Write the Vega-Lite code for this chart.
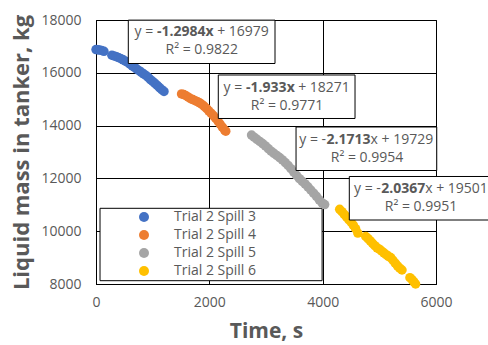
{
  "$schema": "https://vega.github.io/schema/vega-lite/v6.json",
  "width": 340,
  "height": 264,
  "autosize": {"type": "none"},
  "padding": {"left": 96, "top": 20, "right": 52, "bottom": 61},
  "background": "white",
  "config": {
    "font": "Open Sans",
    "view": {"stroke": "black", "strokeWidth": 1},
    "axis": {
      "grid": true, "gridColor": "black", "gridWidth": 1, "gridOpacity": 1,
      "domainColor": "black", "ticks": false, "labelFlush": false, "format": "d",
      "labelFont": "Open Sans", "labelFontSize": 14, "labelColor": "#595959",
      "titleFont": "Open Sans", "titleFontSize": 21, "titleFontWeight": "bold", "titleColor": "#595959"
    }
  },
  "datasets": {
    "points": [
      {"s": "Trial 2 Spill 3", "t": 0, "m": 16880},
      {"s": "Trial 2 Spill 3", "t": 30, "m": 16875},
      {"s": "Trial 2 Spill 3", "t": 60, "m": 16860},
      {"s": "Trial 2 Spill 3", "t": 100, "m": 16845},
      {"s": "Trial 2 Spill 3", "t": 140, "m": 16815},
      {"s": "Trial 2 Spill 3", "t": 280, "m": 16665},
      {"s": "Trial 2 Spill 3", "t": 320, "m": 16640},
      {"s": "Trial 2 Spill 3", "t": 360, "m": 16610},
      {"s": "Trial 2 Spill 3", "t": 400, "m": 16575},
      {"s": "Trial 2 Spill 3", "t": 440, "m": 16535},
      {"s": "Trial 2 Spill 3", "t": 480, "m": 16490},
      {"s": "Trial 2 Spill 3", "t": 520, "m": 16440},
      {"s": "Trial 2 Spill 3", "t": 560, "m": 16390},
      {"s": "Trial 2 Spill 3", "t": 600, "m": 16330},
      {"s": "Trial 2 Spill 3", "t": 640, "m": 16260},
      {"s": "Trial 2 Spill 3", "t": 680, "m": 16200},
      {"s": "Trial 2 Spill 3", "t": 720, "m": 16140},
      {"s": "Trial 2 Spill 3", "t": 760, "m": 16080},
      {"s": "Trial 2 Spill 3", "t": 800, "m": 16020},
      {"s": "Trial 2 Spill 3", "t": 840, "m": 15960},
      {"s": "Trial 2 Spill 3", "t": 880, "m": 15900},
      {"s": "Trial 2 Spill 3", "t": 920, "m": 15830},
      {"s": "Trial 2 Spill 3", "t": 960, "m": 15745},
      {"s": "Trial 2 Spill 3", "t": 1000, "m": 15675},
      {"s": "Trial 2 Spill 3", "t": 1040, "m": 15600},
      {"s": "Trial 2 Spill 3", "t": 1080, "m": 15520},
      {"s": "Trial 2 Spill 3", "t": 1120, "m": 15440},
      {"s": "Trial 2 Spill 3", "t": 1160, "m": 15360},
      {"s": "Trial 2 Spill 3", "t": 1200, "m": 15295},
      {"s": "Trial 2 Spill 4", "t": 1510, "m": 15200},
      {"s": "Trial 2 Spill 4", "t": 1550, "m": 15175},
      {"s": "Trial 2 Spill 4", "t": 1590, "m": 15130},
      {"s": "Trial 2 Spill 4", "t": 1630, "m": 15075},
      {"s": "Trial 2 Spill 4", "t": 1670, "m": 15020},
      {"s": "Trial 2 Spill 4", "t": 1710, "m": 14985},
      {"s": "Trial 2 Spill 4", "t": 1750, "m": 14945},
      {"s": "Trial 2 Spill 4", "t": 1790, "m": 14905},
      {"s": "Trial 2 Spill 4", "t": 1830, "m": 14860},
      {"s": "Trial 2 Spill 4", "t": 1870, "m": 14800},
      {"s": "Trial 2 Spill 4", "t": 1910, "m": 14730},
      {"s": "Trial 2 Spill 4", "t": 1950, "m": 14650},
      {"s": "Trial 2 Spill 4", "t": 1990, "m": 14560},
      {"s": "Trial 2 Spill 4", "t": 2030, "m": 14470},
      {"s": "Trial 2 Spill 4", "t": 2070, "m": 14380},
      {"s": "Trial 2 Spill 4", "t": 2110, "m": 14280},
      {"s": "Trial 2 Spill 4", "t": 2150, "m": 14180},
      {"s": "Trial 2 Spill 4", "t": 2190, "m": 14060},
      {"s": "Trial 2 Spill 4", "t": 2230, "m": 13940},
      {"s": "Trial 2 Spill 4", "t": 2270, "m": 13830},
      {"s": "Trial 2 Spill 4", "t": 2290, "m": 13790},
      {"s": "Trial 2 Spill 5", "t": 2745, "m": 13640},
      {"s": "Trial 2 Spill 5", "t": 2790, "m": 13560},
      {"s": "Trial 2 Spill 5", "t": 2840, "m": 13480},
      {"s": "Trial 2 Spill 5", "t": 2890, "m": 13400},
      {"s": "Trial 2 Spill 5", "t": 2940, "m": 13320},
      {"s": "Trial 2 Spill 5", "t": 2990, "m": 13230},
      {"s": "Trial 2 Spill 5", "t": 3040, "m": 13130},
      {"s": "Trial 2 Spill 5", "t": 3090, "m": 13030},
      {"s": "Trial 2 Spill 5", "t": 3140, "m": 12950},
      {"s": "Trial 2 Spill 5", "t": 3190, "m": 12870},
      {"s": "Trial 2 Spill 5", "t": 3240, "m": 12790},
      {"s": "Trial 2 Spill 5", "t": 3290, "m": 12700},
      {"s": "Trial 2 Spill 5", "t": 3340, "m": 12600},
      {"s": "Trial 2 Spill 5", "t": 3390, "m": 12490},
      {"s": "Trial 2 Spill 5", "t": 3440, "m": 12370},
      {"s": "Trial 2 Spill 5", "t": 3490, "m": 12240},
      {"s": "Trial 2 Spill 5", "t": 3540, "m": 12110},
      {"s": "Trial 2 Spill 5", "t": 3590, "m": 11990},
      {"s": "Trial 2 Spill 5", "t": 3640, "m": 11890},
      {"s": "Trial 2 Spill 5", "t": 3690, "m": 11790},
      {"s": "Trial 2 Spill 5", "t": 3740, "m": 11680},
      {"s": "Trial 2 Spill 5", "t": 3790, "m": 11560},
      {"s": "Trial 2 Spill 5", "t": 3840, "m": 11440},
      {"s": "Trial 2 Spill 5", "t": 3890, "m": 11320},
      {"s": "Trial 2 Spill 5", "t": 3940, "m": 11190},
      {"s": "Trial 2 Spill 5", "t": 3990, "m": 11070},
      {"s": "Trial 2 Spill 5", "t": 4035, "m": 11010},
      {"s": "Trial 2 Spill 6", "t": 4300, "m": 10830},
      {"s": "Trial 2 Spill 6", "t": 4340, "m": 10740},
      {"s": "Trial 2 Spill 6", "t": 4380, "m": 10640},
      {"s": "Trial 2 Spill 6", "t": 4420, "m": 10540},
      {"s": "Trial 2 Spill 6", "t": 4460, "m": 10440},
      {"s": "Trial 2 Spill 6", "t": 4500, "m": 10350},
      {"s": "Trial 2 Spill 6", "t": 4540, "m": 10230},
      {"s": "Trial 2 Spill 6", "t": 4580, "m": 10100},
      {"s": "Trial 2 Spill 6", "t": 4620, "m": 9930},
      {"s": "Trial 2 Spill 6", "t": 4760, "m": 9800},
      {"s": "Trial 2 Spill 6", "t": 4800, "m": 9720},
      {"s": "Trial 2 Spill 6", "t": 4840, "m": 9630},
      {"s": "Trial 2 Spill 6", "t": 4880, "m": 9540},
      {"s": "Trial 2 Spill 6", "t": 4920, "m": 9450},
      {"s": "Trial 2 Spill 6", "t": 4960, "m": 9370},
      {"s": "Trial 2 Spill 6", "t": 5000, "m": 9320},
      {"s": "Trial 2 Spill 6", "t": 5040, "m": 9250},
      {"s": "Trial 2 Spill 6", "t": 5080, "m": 9180},
      {"s": "Trial 2 Spill 6", "t": 5120, "m": 9110},
      {"s": "Trial 2 Spill 6", "t": 5160, "m": 9050},
      {"s": "Trial 2 Spill 6", "t": 5200, "m": 9000},
      {"s": "Trial 2 Spill 6", "t": 5240, "m": 8900},
      {"s": "Trial 2 Spill 6", "t": 5280, "m": 8790},
      {"s": "Trial 2 Spill 6", "t": 5320, "m": 8690},
      {"s": "Trial 2 Spill 6", "t": 5360, "m": 8600},
      {"s": "Trial 2 Spill 6", "t": 5400, "m": 8530},
      {"s": "Trial 2 Spill 6", "t": 5540, "m": 8240},
      {"s": "Trial 2 Spill 6", "t": 5580, "m": 8160},
      {"s": "Trial 2 Spill 6", "t": 5610, "m": 8080},
      {"s": "Trial 2 Spill 6", "t": 5640, "m": 8000}
    ],
    "legendbox": [
      {"x1": 71, "x2": 3990, "y1": 10867, "y2": 8125}
    ],
    "boxes": [
      {"x1": 570, "x2": 3159, "y1": 17995, "y2": 16352},
      {"x1": 2158, "x2": 4571, "y1": 15917, "y2": 14269},
      {"x1": 3530, "x2": 6013, "y1": 13947, "y2": 12299},
      {"x1": 4470, "x2": 6989, "y1": 12072, "y2": 10424}
    ],
    "normal": [
      {"x": 679, "y": 17527, "txt": "y ="},
      {"x": 2139, "y": 17527, "txt": "+ 16979"},
      {"x": 2250, "y": 15443, "txt": "y ="},
      {"x": 3567, "y": 15443, "txt": "+ 18271"},
      {"x": 3588, "y": 13473, "txt": "y = -"},
      {"x": 4845, "y": 13473, "txt": "x + 19729"},
      {"x": 4553, "y": 11598, "txt": "y = -"},
      {"x": 5810, "y": 11598, "txt": "x + 19501"}
    ],
    "bold": [
      {"x": 1078, "y": 17527, "txt": "-1.2984x"},
      {"x": 2649, "y": 15443, "txt": "-1.933x"},
      {"x": 4066, "y": 13473, "txt": "2.1713"},
      {"x": 5032, "y": 11598, "txt": "2.0367"}
    ],
    "rsq": [
      {"x": 1866, "y": 16845, "txt": "R² = 0.9822"},
      {"x": 3371, "y": 14761, "txt": "R² = 0.9771"},
      {"x": 4783, "y": 12791, "txt": "R² = 0.9954"},
      {"x": 5736, "y": 10916, "txt": "R² = 0.9951"}
    ]
  },
  "layer": [
    {
      "data": {"name": "legendbox"},
      "mark": {"type": "rect", "fill": "white", "stroke": "black", "strokeWidth": 1},
      "encoding": {
        "x": {"field": "x1", "type": "quantitative", "scale": {"domain": [0, 6000], "nice": false, "zero": false},
              "axis": {"values": [0, 2000, 4000, 6000], "title": "Time, s", "labelPadding": 11, "titlePadding": 11}},
        "x2": {"field": "x2"},
        "y": {"field": "y1", "type": "quantitative", "scale": {"domain": [8000, 18000], "nice": false, "zero": false},
              "axis": {"values": [8000, 10000, 12000, 14000, 16000, 18000], "title": "Liquid mass in tanker, kg", "labelPadding": 15, "titlePadding": 7, "titleFontSize": 22}},
        "y2": {"field": "y2"}
      }
    },
    {
      "data": {"name": "points"},
      "mark": {"type": "circle", "size": 90, "opacity": 1},
      "encoding": {
        "x": {"field": "t", "type": "quantitative"},
        "y": {"field": "m", "type": "quantitative"},
        "color": {
          "field": "s", "type": "nominal",
          "scale": {"domain": ["Trial 2 Spill 3", "Trial 2 Spill 4", "Trial 2 Spill 5", "Trial 2 Spill 6"],
                    "range": ["#4472C4", "#ED7D31", "#A5A5A5", "#FFC000"]},
          "legend": {
            "title": null, "orient": "none", "legendX": 41, "legendY": 190,
            "padding": 0, "symbolType": "circle", "symbolSize": 100, "symbolStrokeWidth": 0,
            "labelFont": "Open Sans", "labelFontSize": 14, "labelColor": "#595959",
            "labelOffset": 23, "rowPadding": 4
          }
        }
      }
    },
    {
      "data": {"name": "boxes"},
      "mark": {"type": "rect", "fill": "white", "stroke": "black", "strokeWidth": 1},
      "encoding": {
        "x": {"field": "x1", "type": "quantitative"},
        "x2": {"field": "x2"},
        "y": {"field": "y1", "type": "quantitative"},
        "y2": {"field": "y2"}
      }
    },
    {
      "data": {"name": "normal"},
      "mark": {"type": "text", "align": "left", "baseline": "middle", "font": "Open Sans", "fontSize": 14, "color": "#595959"},
      "encoding": {
        "x": {"field": "x", "type": "quantitative"},
        "y": {"field": "y", "type": "quantitative"},
        "text": {"field": "txt"}
      }
    },
    {
      "data": {"name": "bold"},
      "mark": {"type": "text", "align": "left", "baseline": "middle", "font": "Open Sans", "fontSize": 14, "fontWeight": "bold", "color": "#595959"},
      "encoding": {
        "x": {"field": "x", "type": "quantitative"},
        "y": {"field": "y", "type": "quantitative"},
        "text": {"field": "txt"}
      }
    },
    {
      "data": {"name": "rsq"},
      "mark": {"type": "text", "align": "center", "baseline": "middle", "font": "Open Sans", "fontSize": 14, "color": "#595959"},
      "encoding": {
        "x": {"field": "x", "type": "quantitative"},
        "y": {"field": "y", "type": "quantitative"},
        "text": {"field": "txt"}
      }
    }
  ]
}
